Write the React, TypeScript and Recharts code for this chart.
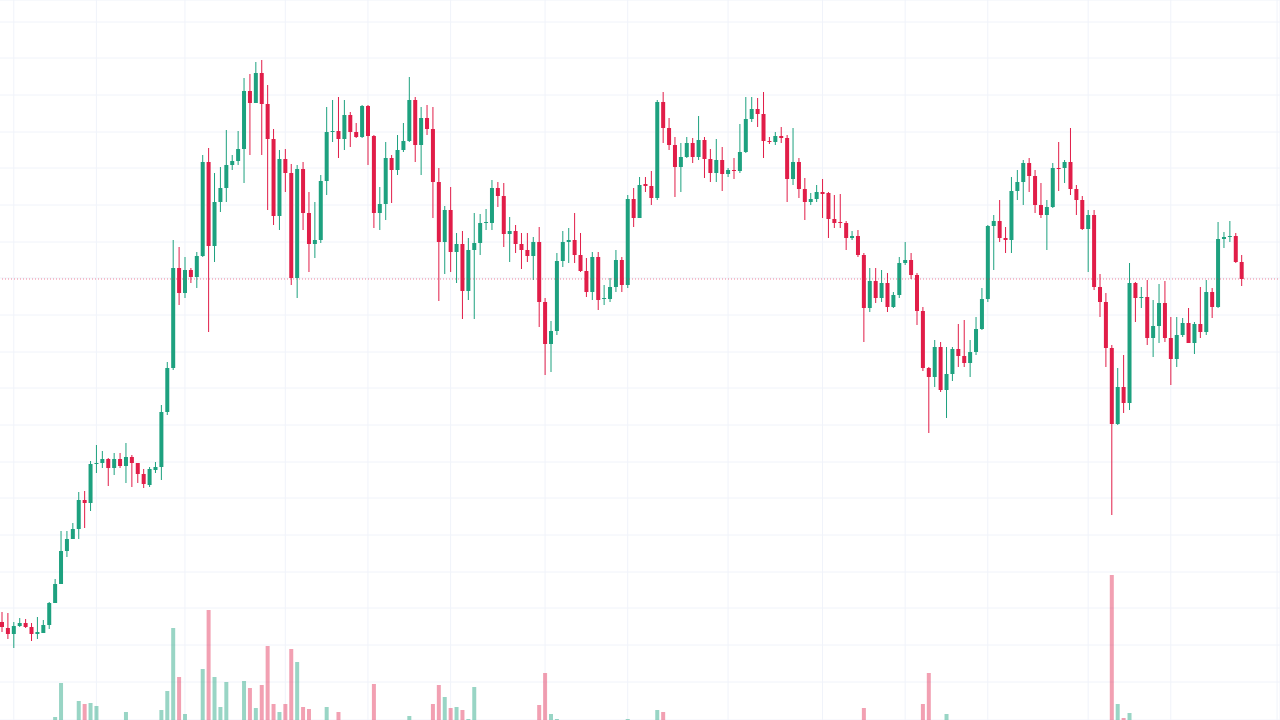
import { Bar, CartesianGrid, Cell, ComposedChart, ReferenceLine, XAxis, YAxis } from "recharts";

const UP = "#1da17f";
const DOWN = "#e11d48";
const UP_VOL = "rgba(29,161,127,0.45)";
const DOWN_VOL = "rgba(225,29,72,0.42)";
const GRID = "#f0f3fa";

const opens = [
    98, 92, 86, 94, 97, 93, 86, 87, 95, 117,
    136, 169, 181, 191, 220, 217, 256, 257, 261, 252,
    261, 254, 263, 257, 246, 235, 250, 253, 308, 352,
    452, 427, 450, 443, 464, 558, 474, 518, 532, 555,
    559, 571, 629, 617, 647, 616, 581, 504, 561, 547,
    442, 551, 507, 476, 480, 539, 588, 589, 581, 605,
    588, 583, 614, 584, 507, 516, 562, 550, 570, 579,
    620, 575, 602, 591, 538, 478, 510, 468, 476, 429,
    470, 477, 497, 497, 532, 524, 486, 489, 476, 470,
    464, 478, 418, 376, 389, 459, 478, 480, 465, 449,
    428, 463, 421, 421, 433, 460, 435, 521, 502, 536,
    534, 522, 618, 592, 575, 553, 563, 577, 563, 580,
    561, 547, 560, 546, 550, 549, 568, 601, 611, 606,
    579, 578, 584, 582, 541, 558, 531, 518, 521, 528,
    527, 501, 498, 497, 482, 484, 465, 412, 439, 422,
    437, 413, 425, 457, 460, 445, 409, 352, 343, 373,
    330, 346, 371, 364, 357, 368, 391, 421, 494, 499,
    482, 480, 529, 538, 557, 544, 515, 505, 513, 552,
    552, 558, 531, 520, 491, 505, 433, 418, 372, 296,
    333, 317, 437, 422, 423, 382, 394, 417, 382, 361,
    385, 397, 377, 396, 388, 428, 413, 481, 483, 484,
    458,
];

const highs = [
    108, 107, 98, 102, 101, 97, 103, 100, 118, 141,
    189, 189, 197, 228, 229, 259, 275, 269, 262, 267,
    267, 277, 265, 257, 251, 253, 258, 315, 358, 480,
    473, 463, 452, 468, 565, 572, 547, 553, 590, 565,
    589, 642, 646, 658, 660, 635, 591, 570, 571, 556,
    555, 558, 528, 518, 545, 613, 620, 623, 620, 608,
    597, 615, 615, 585, 533, 578, 565, 585, 597, 643,
    623, 613, 615, 613, 552, 514, 533, 487, 489, 482,
    507, 506, 511, 540, 538, 537, 503, 495, 487, 487,
    483, 493, 422, 399, 467, 489, 492, 507, 487, 462,
    468, 468, 435, 442, 470, 463, 525, 532, 543, 543,
    549, 620, 628, 602, 583, 577, 583, 582, 604, 583,
    571, 581, 573, 552, 562, 596, 623, 623, 622, 628,
    583, 588, 593, 585, 592, 562, 542, 527, 535, 541,
    528, 525, 526, 499, 489, 490, 467, 452, 452, 450,
    447, 428, 463, 478, 467, 447, 413, 353, 380, 378,
    373, 373, 396, 400, 380, 403, 432, 495, 505, 520,
    493, 543, 550, 560, 562, 550, 537, 520, 557, 578,
    560, 592, 535, 524, 510, 510, 446, 427, 375, 352,
    365, 457, 438, 433, 440, 420, 436, 439, 403, 403,
    402, 412, 398, 433, 440, 432, 498, 488, 499, 487,
    465,
];

const lows = [
    88, 81, 72, 93, 92, 79, 81, 87, 91, 117,
    136, 163, 181, 181, 192, 209, 247, 252, 234, 245,
    252, 237, 233, 237, 232, 233, 247, 240, 305, 350,
    415, 422, 437, 432, 463, 388, 458, 508, 518, 550,
    555, 537, 565, 617, 565, 510, 495, 490, 528, 435,
    422, 490, 448, 462, 477, 525, 578, 562, 570, 573,
    582, 582, 555, 492, 490, 500, 517, 545, 568, 578,
    558, 545, 585, 502, 419, 446, 448, 437, 401, 420,
    401, 465, 490, 490, 513, 473, 458, 467, 451, 458,
    440, 393, 345, 348, 385, 453, 457, 457, 448, 423,
    420, 410, 415, 418, 428, 428, 432, 493, 502, 528,
    515, 520, 577, 570, 523, 528, 562, 557, 560, 542,
    538, 538, 529, 543, 541, 547, 567, 598, 593, 562,
    576, 575, 577, 518, 535, 522, 500, 515, 518, 502,
    482, 492, 492, 470, 480, 463, 378, 408, 417, 418,
    408, 412, 422, 455, 441, 395, 349, 287, 333, 328,
    302, 339, 353, 353, 343, 365, 390, 418, 450, 478,
    467, 467, 520, 515, 528, 507, 502, 470, 512, 529,
    537, 525, 505, 490, 448, 430, 403, 353, 205, 295,
    307, 310, 398, 412, 375, 363, 377, 378, 335, 353,
    383, 377, 366, 382, 385, 402, 412, 472, 478, 457,
    434,
];

const closes = [
    93, 86, 94, 97, 93, 86, 88, 95, 117, 136,
    169, 181, 191, 220, 217, 256, 257, 261, 252, 261,
    254, 263, 257, 246, 236, 251, 253, 308, 352, 452,
    427, 450, 443, 464, 558, 474, 518, 532, 555, 559,
    571, 629, 617, 647, 616, 581, 504, 561, 547, 442,
    551, 507, 476, 480, 539, 588, 589, 581, 605, 588,
    583, 614, 584, 507, 516, 562, 550, 570, 579, 620,
    575, 602, 591, 538, 478, 510, 468, 476, 429, 470,
    477, 497, 498, 532, 524, 486, 489, 476, 470, 464,
    478, 418, 376, 389, 459, 478, 480, 465, 449, 428,
    463, 420, 422, 433, 460, 435, 521, 502, 535, 534,
    522, 618, 592, 575, 553, 563, 577, 563, 580, 561,
    547, 560, 546, 550, 549, 568, 601, 611, 606, 579,
    578, 584, 582, 541, 558, 531, 518, 521, 528, 526,
    501, 497, 497, 482, 484, 465, 412, 439, 422, 437,
    413, 425, 457, 460, 445, 409, 352, 343, 373, 330,
    346, 371, 364, 357, 368, 391, 421, 494, 499, 482,
    480, 529, 538, 557, 544, 515, 505, 513, 552, 551,
    558, 531, 520, 491, 505, 433, 418, 372, 296, 333,
    317, 437, 422, 423, 382, 394, 417, 382, 361, 385,
    397, 377, 396, 388, 428, 413, 481, 483, 484, 458,
    441,
];

const volumes = [
    0, 0, 0, 0, 0, 0, 0, 0, 0, 3,
    37, 0, 0, 19, 16, 17, 14, 0, 0, 0,
    0, 8, 0, 0, 0, 0, 0, 10, 29, 92,
    43, 6, 0, 0, 51, 110, 43, 13, 38, 0,
    0, 39, 32, 12, 35, 74, 16, 8, 16, 71,
    58, 13, 11, 0, 0, 13, 0, 8, 0, 0,
    0, 0, 0, 36, 0, 0, 0, 0, 0, 4,
    0, 0, 0, 16, 35, 23, 12, 13, 10, 1,
    33, 0, 0, 0, 0, 0, 0, 0, 0, 0,
    0, 15, 47, 6, 1, 0, 0, 0, 0, 0,
    0, 0, 0, 0, 0, 0, 1, 0, 0, 0,
    0, 10, 8, 0, 0, 0, 0, 0, 0, 0,
    0, 0, 0, 0, 0, 0, 0, 0, 0, 0,
    0, 0, 0, 0, 0, 0, 0, 0, 0, 0,
    0, 0, 0, 0, 0, 0, 12, 0, 0, 0,
    0, 0, 0, 0, 0, 0, 16, 47, 0, 0,
    6, 0, 0, 0, 0, 0, 0, 0, 0, 0,
    0, 0, 0, 0, 0, 0, 0, 0, 0, 0,
    0, 0, 0, 0, 0, 0, 0, 0, 145, 16,
    2, 7, 0, 0, 0, 0, 0, 0, 0, 0,
    0, 0, 0, 0, 0, 0, 0, 0, 0, 0,
    0,
];

// empty slots kept on the right side of the last bar
const rightPadding = 6;

// time grid (bar index) and price grid levels
const timeGrid = [2, 16, 31, 48, 62, 76, 92, 106, 123, 139, 153, 167, 184, 198, 216];
const priceGrid = [38, 75, 112, 148, 185, 222, 258, 295, 332, 368, 405, 442, 478, 515, 552, 588, 625, 662, 698];
const lastPrice = 441;

const data = [
    ...closes.map((c, i) => ({
        i,
        open: opens[i],
        high: highs[i],
        low: lows[i],
        close: c,
        range: [lows[i], highs[i]],
        volume: volumes[i],
    })),
    ...Array.from({length: rightPadding}, (_, k) => ({i: closes.length + k})),
];

const Candle = (props: any) => {
    const {x, y, width, height, payload} = props;
    if (!payload || payload.high == null) return null;
    const {open, close, high, low} = payload;
    const top = Math.min(y, y + height);
    const h = Math.abs(height);
    const k = h / (high - low);
    const py = (v: number) => top + (high - v) * k;
    const color = close >= open ? UP : DOWN;
    const bodyTop = py(Math.max(open, close));
    const bodyBottom = py(Math.min(open, close));
    const cx = x + width / 2;
    return (
        <g>
            <line x1={cx} x2={cx} y1={top} y2={top + h} stroke={color} strokeWidth={1}/>
            <rect x={x} y={bodyTop} width={width} height={Math.max(1, bodyBottom - bodyTop)} fill={color}/>
        </g>
    );
};

const App = () => {
    return (
        <div style={{position: "absolute", left: -1, top: 0, width: 1281, height: 720, background: "#ffffff"}}>
            <ComposedChart width={1281} height={720} data={data} margin={{top: 0, right: 0, bottom: 0, left: 0}}>
                <XAxis xAxisId="price" dataKey="i" ticks={timeGrid} interval={0} hide/>
                <XAxis xAxisId="vol" dataKey="i" hide/>
                <YAxis yAxisId="price" domain={[0, 720]} ticks={priceGrid} interval={0} hide/>
                <YAxis yAxisId="vol" domain={[0, 720]} hide/>
                <CartesianGrid xAxisId="price" yAxisId="price" stroke={GRID}/>
                <Bar dataKey="volume" xAxisId="vol" yAxisId="vol" barSize={4} isAnimationActive={false}>
                    {data.map((d: any) => (
                        <Cell key={d.i} fill={d.close >= d.open ? UP_VOL : DOWN_VOL}/>
                    ))}
                </Bar>
                <Bar dataKey="range" xAxisId="price" yAxisId="price" barSize={4} shape={Candle}
                     isAnimationActive={false}/>
                <ReferenceLine y={lastPrice} xAxisId="price" yAxisId="price" stroke={DOWN} strokeOpacity={0.55}
                               strokeDasharray="1 2" strokeWidth={1}/>
            </ComposedChart>
        </div>
    );
};

export default App;
